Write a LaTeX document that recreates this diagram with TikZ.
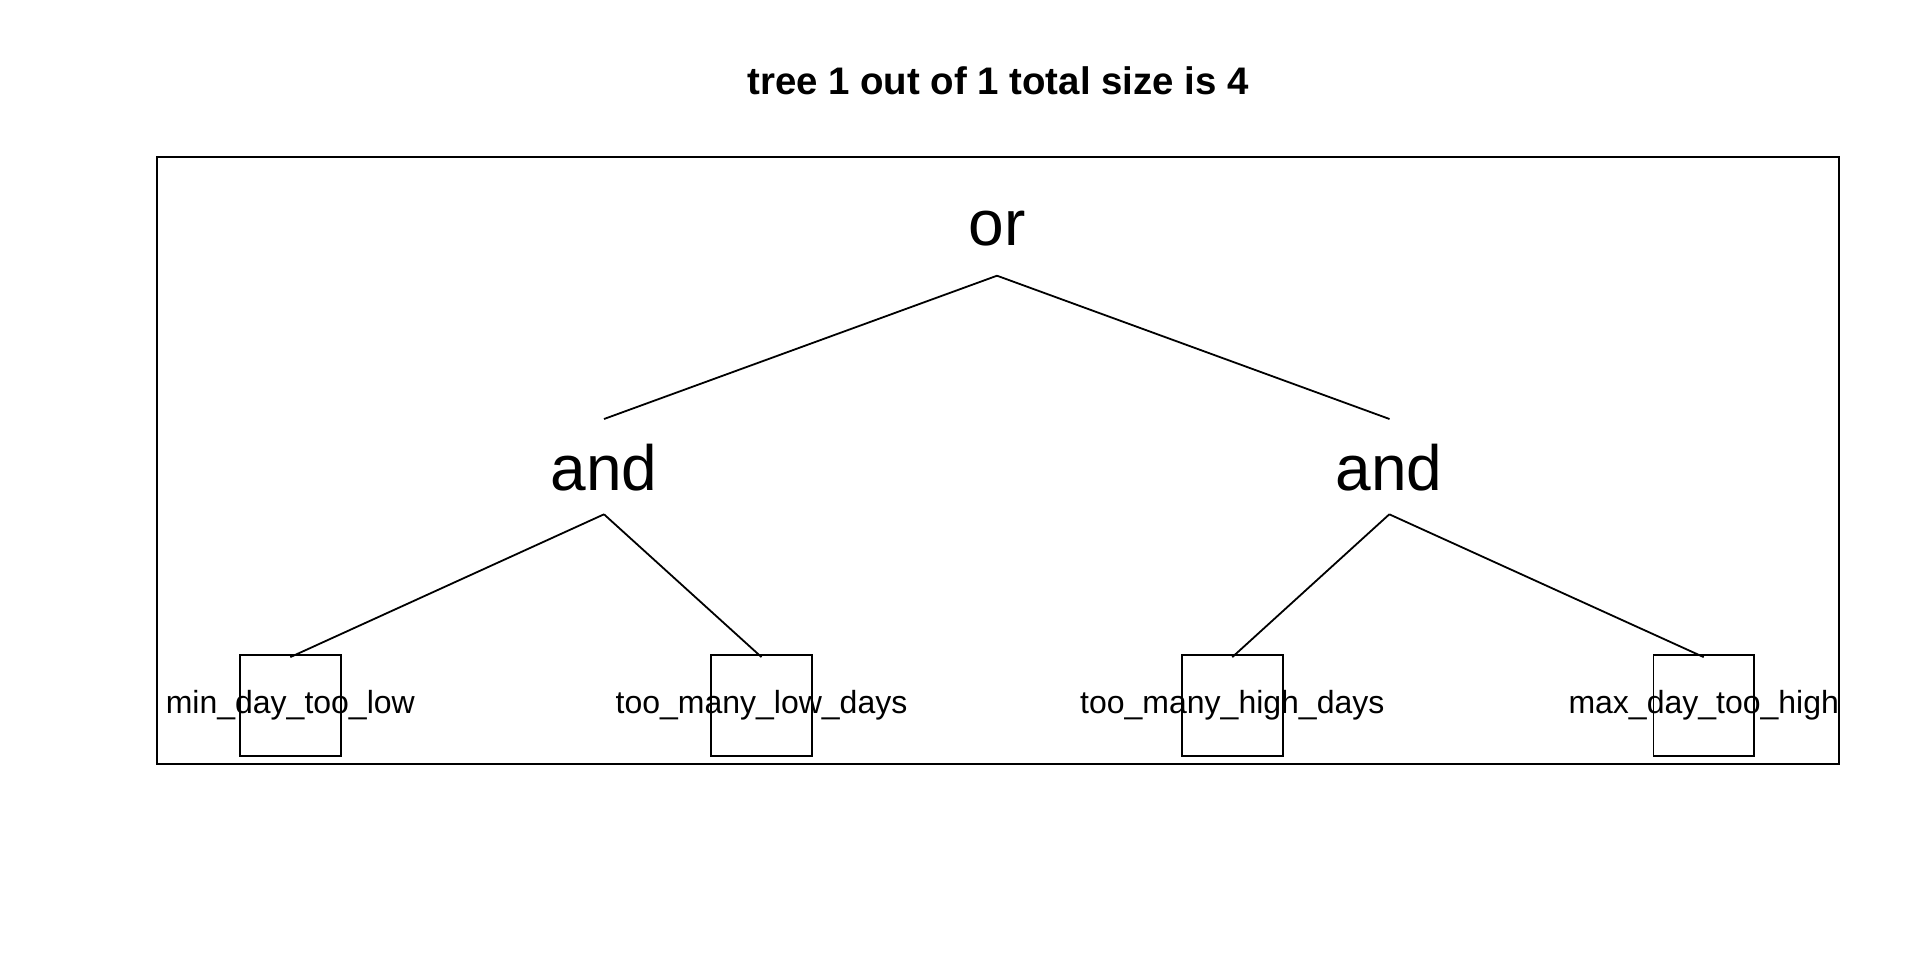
\documentclass[tikz,border=0pt]{standalone}
\usepackage{fontspec}
\setmainfont{Liberation Sans}
\begin{document}
\begin{tikzpicture}[x=0.5pt, y=-0.5pt, line width=0.9pt,
  opnode/.style={anchor=base, inner sep=0pt, font=\fontsize{32}{38}\selectfont},
  leafbox/.style={draw, minimum width=50.3pt, minimum height=50.5pt, inner sep=0pt},
  leaflabel/.style={anchor=base, inner sep=0pt, font=\fontsize{16}{19}\selectfont}]
\useasboundingbox (0,0) rectangle (1920,960);

% Title and plot frame
\node[anchor=base, inner sep=0pt, font=\bfseries\fontsize{19.2}{23}\selectfont] (title) at (998,94.5) {tree 1 out of 1 total size is 4};
\draw (157,157) rectangle (1839,764);

% Operator nodes
\node[opnode] (or) at (997,245) {or};
\node[opnode] (andL) at (604,490) {and};
\node[opnode] (andR) at (1389,490) {and};

\coordinate (or-foot) at (997,275.7);
\coordinate (andL-head) at (604,419); \coordinate (andL-foot) at (604,514.3);
\coordinate (andR-head) at (1389.5,419); \coordinate (andR-foot) at (1389.3,514.3);

% Leaves
\foreach \n/\x/\txt in {leafA/290.3/min\_day\_too\_low, leafB/761.5/too\_many\_low\_days,
    leafC/1232.3/too\_many\_high\_days, leafD/1703.7/max\_day\_too\_high} {
  \node[leafbox] (\n) at (\x,705.5) {};
  \node[leaflabel] (\n-label) at (\x,713.5) {\txt};
}

% Branches
\draw (or-foot) -- (andL-head);
\draw (or-foot) -- (andR-head);
\foreach \p/\c in {andL/leafA, andL/leafB, andR/leafC, andR/leafD}
  \draw (\p-foot) -- ([yshift=-1.5pt]\c.north);
\end{tikzpicture}
\end{document}
